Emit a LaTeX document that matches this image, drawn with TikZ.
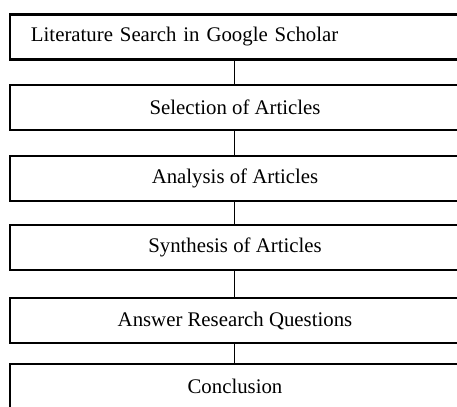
\documentclass[tikz,border=0pt]{standalone}
\usepackage{fontspec}
\setmainfont{Liberation Serif}
\usepackage{tikz}

\begin{document}
\begin{tikzpicture}[x=0.5pt,y=-0.5pt,
    stage/.style={draw, line width=1.2pt, minimum width=225pt, minimum height=22.5pt,
      inner xsep=10.5pt, inner ysep=0pt, align=center,
      font=\fontsize{10.4}{12}\selectfont},
    link/.style={line width=0.5pt}]
        % Cadre de la figure
        \useasboundingbox (0,0) rectangle (457,407);

        % Etapes
        \node[stage, text width=204pt, align=left] (search) at (235,37) {Literature Search in Google Scholar};
        \node[stage] (select) at (235,107.5) {Selection of Articles};
        \node[stage] (analysis) at (235,178.5) {Analysis of Articles};
        \node[stage] (synthesis) at (235,247.5) {Synthesis of Articles};
        \node[stage] (answer) at (235,320.5) {Answer Research Questions};
        \node[stage] (conclusion) at (235,386.5) {Conclusion};

        % Liaisons
        \draw[link] (search) -- (select);
        \draw[link] (select) -- (analysis);
        \draw[link] (analysis) -- (synthesis);
        \draw[link] (synthesis) -- (answer);
        \draw[link] (answer) -- (conclusion);
    \end{tikzpicture}
\end{document}
